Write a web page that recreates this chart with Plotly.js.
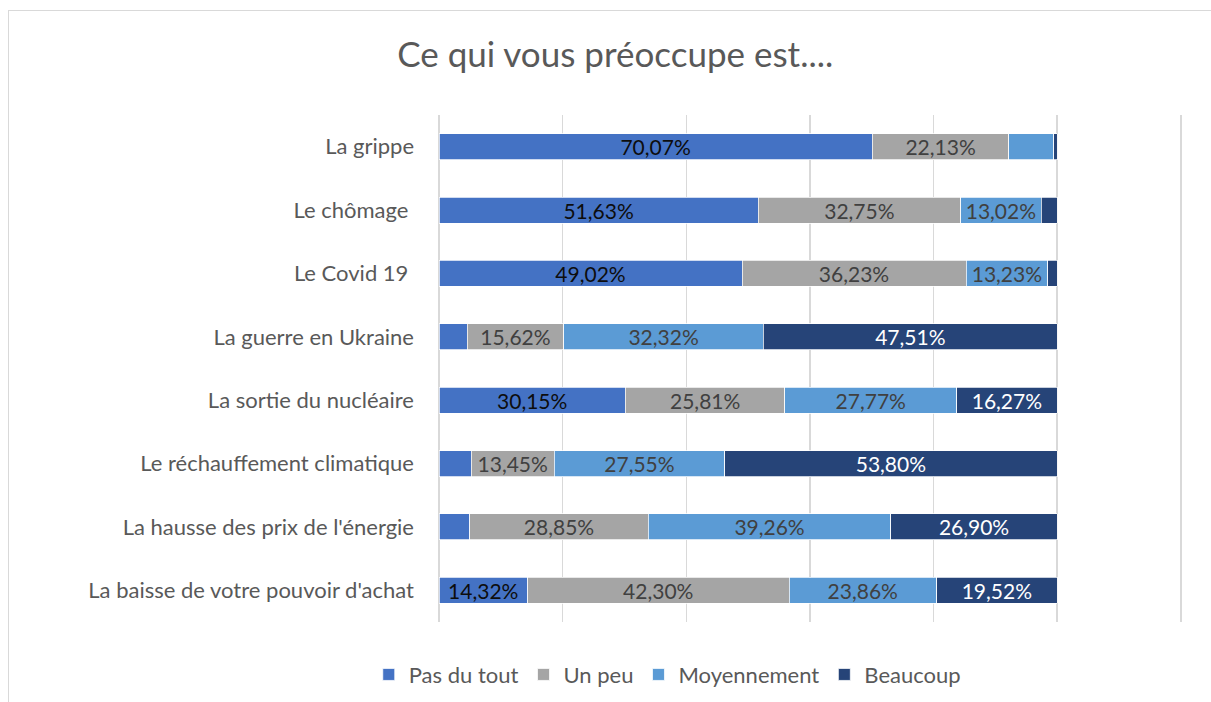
<!DOCTYPE html>
<html><head><meta charset="utf-8">
<title>Ce qui vous préoccupe est....</title>
<script src="https://cdn.plot.ly/plotly-3.0.1.min.js"></script>
<style>
html, body { margin: 0; padding: 0; background: #fff; overflow: hidden; }
#chart { position: absolute; left: 0; top: 0; width: 1211px; height: 702px; }
.frame { position: absolute; left: 8px; top: 10px; width: 1400px; height: 900px; border: 1px solid #d9d9d9; pointer-events: none; }
</style></head><body>
<div id="chart"></div>
<div class="frame"></div>
<script>
// categories, top to bottom
const categories = [
  'La grippe',
  'Le chômage ',
  'Le Covid 19 ',
  'La guerre en Ukraine',
  'La sortie du nucléaire',
  'Le réchauffement climatique',
  "La hausse des prix de l'énergie",
  "La baisse de votre pouvoir d'achat"
];

// shares in %, same order as categories
const pasDuTout   = [70.07, 51.63, 49.02, 4.55, 30.15, 5.20, 4.99, 14.32];
const unPeu       = [22.13, 32.75, 36.23, 15.62, 25.81, 13.45, 28.85, 42.30];
const moyennement = [7.28, 13.02, 13.23, 32.32, 27.77, 27.55, 39.26, 23.86];
const beaucoup    = [0.52, 2.60, 1.52, 47.51, 16.27, 53.80, 26.90, 19.52];

const FONT = 'Lato, "Open Sans", sans-serif';

// Excel only labelled the wider segments
const label = vals => vals.map(v => v >= 10 ? v.toFixed(2).replace('.', ',') + '%' : '');

function series(name, vals, color, textColor) {
  return {
    type: 'bar', orientation: 'h', name: name,
    x: vals, y: categories,
    marker: { color: color, line: { color: '#ffffff', width: 0.75 } },
    text: label(vals),
    textposition: 'inside', insidetextanchor: 'middle', textangle: 0,
    constraintext: 'none',
    textfont: { family: FONT, size: 21, color: textColor },
    hoverinfo: 'x+y+name'
  };
}

const data = [
  series('Pas du tout', pasDuTout, '#4472c4', '#0d0d0d'),
  series('Un peu', unPeu, '#a5a5a5', '#404040'),
  series('Moyennement', moyennement, '#5b9bd5', '#404040'),
  series('Beaucoup', beaucoup, '#264478', '#ffffff')
];

const layout = {
  width: 1211, height: 702,
  paper_bgcolor: 'rgba(0,0,0,0)', plot_bgcolor: 'rgba(0,0,0,0)',
  margin: { l: 439, r: 24, t: 115, b: 80 },
  font: { family: FONT, color: '#595959' },
  title: {
    text: 'Ce qui vous préoccupe est....',
    font: { family: FONT, size: 35, color: '#595959' },
    x: 0.508, xanchor: 'center', xref: 'container',
    y: 0.922, yanchor: 'middle', yref: 'container'
  },
  barmode: 'stack',
  bargap: 0.59,
  showlegend: true,
  legend: {
    orientation: 'h', xref: 'container', yref: 'container',
    x: 0.551, xanchor: 'center', y: 0.039, yanchor: 'middle',
    traceorder: 'normal',
    font: { family: FONT, size: 22, color: '#595959' },
    itemwidth: 30
  },
  xaxis: {
    // past 120 so the last grid line is not clipped at the edge
    range: [0, 121], dtick: 20, tick0: 0,
    showgrid: true, gridcolor: '#d9d9d9', gridwidth: 1.5,
    zeroline: true, zerolinecolor: '#d9d9d9', zerolinewidth: 1.5,
    showticklabels: false, ticks: '', showline: false, fixedrange: true
  },
  yaxis: {
    autorange: 'reversed', type: 'category',
    showgrid: false, zeroline: false, showline: false, ticks: '',
    ticklabelstandoff: 24,
    tickfont: { family: FONT, size: 22, color: '#595959' },
    fixedrange: true
  }
};

Plotly.newPlot('chart', data, layout, { displayModeBar: false, staticPlot: true });
</script>
</body></html>
